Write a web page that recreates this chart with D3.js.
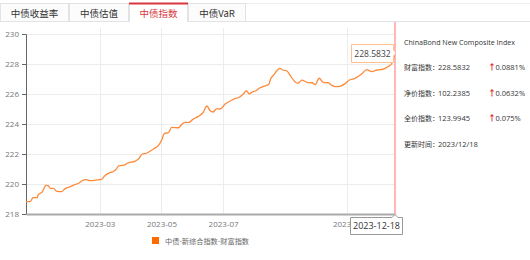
<!DOCTYPE html>
<html>
<head>
<meta charset="utf-8">
<script src="https://cdn.jsdelivr.net/npm/d3@7"></script>
<style>
  body { margin: 0; background: #fff; font-family: "Noto Sans CJK SC", "Noto Sans", sans-serif; }
  svg text { font-family: "Noto Sans CJK SC", "Noto Sans", sans-serif; }
</style>
</head>
<body>
<svg id="chart" width="530" height="260"></svg>
<script>
// tabs along the top
var tabs = ["中债收益率", "中债估值", "中债指数", "中债VaR"];
var activeTab = 2;

// wealth index series
var dates = ["2022-12-18","2022-12-22","2022-12-25","2022-12-29","2022-12-30","2023-01-03","2023-01-06","2023-01-07","2023-01-09","2023-01-11",
  "2023-01-14","2023-01-17","2023-01-22","2023-01-26","2023-01-31","2023-02-03","2023-02-08","2023-02-11","2023-02-16","2023-02-19",
  "2023-02-26","2023-03-03","2023-03-06","2023-03-10","2023-03-14","2023-03-17","2023-03-20","2023-03-26","2023-03-28","2023-04-05",
  "2023-04-08","2023-04-12","2023-04-16","2023-04-23","2023-04-28","2023-05-01","2023-05-04","2023-05-08","2023-05-11","2023-05-18",
  "2023-05-19","2023-05-24","2023-05-28","2023-06-01","2023-06-06","2023-06-11","2023-06-15","2023-06-18","2023-06-21","2023-06-25",
  "2023-06-28","2023-07-03","2023-07-08","2023-07-13","2023-07-16","2023-07-21","2023-07-24","2023-07-27","2023-07-29","2023-08-02",
  "2023-08-06","2023-08-11","2023-08-15","2023-08-17","2023-08-20","2023-08-23","2023-08-26","2023-08-29","2023-09-02","2023-09-05",
  "2023-09-10","2023-09-13","2023-09-17","2023-09-22","2023-09-27","2023-09-30","2023-10-04","2023-10-08","2023-10-13","2023-10-16",
  "2023-10-20","2023-10-25","2023-10-30","2023-11-03","2023-11-08","2023-11-15","2023-11-20","2023-11-25","2023-11-30","2023-12-06",
  "2023-12-11","2023-12-15","2023-12-18"];
var values = [218.82,218.82,219.09,219.09,219.27,219.47,219.87,219.91,219.89,219.71,
  219.71,219.53,219.49,219.71,219.82,219.93,220.05,220.20,220.29,220.22,
  220.27,220.33,220.55,220.73,220.82,220.97,221.22,221.27,221.38,221.53,
  221.65,222.00,222.05,222.33,222.57,222.90,223.38,223.42,223.78,223.75,
  223.82,224.11,224.11,224.31,224.49,224.75,225.20,224.90,224.80,225.03,
  225.00,225.33,225.53,225.71,225.75,226.00,226.22,225.99,226.11,226.20,
  226.40,226.53,226.63,227.00,227.27,227.53,227.71,227.60,227.55,227.27,
  226.82,226.71,226.93,226.78,226.75,226.62,227.05,226.78,226.75,226.60,
  226.49,226.53,226.71,226.93,227.03,227.33,227.63,227.49,227.60,227.65,
  227.82,228.05,228.5832];

var yTicks = [218, 220, 222, 224, 226, 228, 230];
var xTicks = ["2023-03-01", "2023-05-01", "2023-07-01", "2023-11-01"];
var lastDate = "2023-12-18";

var seriesName = "中债-新综合指数-财富指数";
var panelTitle = "ChinaBond New Composite Index";
var panelLabels = ["财富指数：", "净价指数：", "全价指数："];
var panelValues = ["228.5832", "102.2385", "123.9945"];
var panelChanges = ["0.0881%", "0.0632%", "0.075%"];
var updateLabel = "更新时间：2023/12/18";

var parse = d3.timeParse("%Y-%m-%d");
var data = dates.map(function(d, i) { return { date: parse(d), value: values[i] }; });

var svg = d3.select("#chart");
var margin = { left: 26, right: 135, top: 34, bottom: 46 };
var width = 530, height = 260;
var latin = "'Open Sans', sans-serif";

// ---- tab bar ----
var tabX = [0, 69, 129, 188, 246];
svg.append("line").attr("x1", 0).attr("x2", width).attr("y1", 21.5).attr("y2", 21.5)
  .attr("stroke", "#e3e3e3");
svg.append("line").attr("x1", 0).attr("x2", width).attr("y1", 3.5).attr("y2", 3.5)
  .attr("stroke", "#eeeeee");
var tab = svg.selectAll("g.tab").data(tabs).enter().append("g").attr("class", "tab");
tab.append("rect")
  .attr("x", function(d, i) { return tabX[i] + 0.5; })
  .attr("y", 3.5)
  .attr("width", function(d, i) { return tabX[i + 1] - tabX[i] - 1; })
  .attr("height", 18)
  .attr("fill", function(d, i) { return i === activeTab ? "#fff" : "#fcfcfc"; })
  .attr("stroke", "#e3e3e3");
tab.filter(function(d, i) { return i === activeTab; }).append("rect")
  .attr("x", tabX[activeTab] + 1).attr("y", 19).attr("width", tabX[activeTab + 1] - tabX[activeTab] - 2)
  .attr("height", 4).attr("fill", "#fff");
tab.filter(function(d, i) { return i === activeTab; }).append("line")
  .attr("x1", tabX[activeTab]).attr("x2", tabX[activeTab + 1])
  .attr("y1", 3.5).attr("y2", 3.5)
  .attr("stroke", "#d9363e").attr("stroke-width", 2);
tab.append("text")
  .attr("x", function(d, i) { return (tabX[i] + tabX[i + 1]) / 2; })
  .attr("y", 16.5)
  .attr("text-anchor", "middle")
  .attr("font-size", 9.5)
  .attr("fill", function(d, i) { return i === activeTab ? "#d9363e" : "#333"; })
  .text(function(d) { return d; });

// ---- scales ----
var x = d3.scaleTime()
  .domain([parse("2022-12-18"), parse(lastDate)])
  .range([margin.left, width - margin.right]);
var y = d3.scaleLinear()
  .domain([218, 230])
  .range([height - margin.bottom, margin.top]);

// grid
svg.append("g").selectAll("line").data(yTicks.slice(1)).enter().append("line")
  .attr("x1", margin.left).attr("x2", width - margin.right)
  .attr("y1", function(d) { return Math.round(y(d)) + 0.5; })
  .attr("y2", function(d) { return Math.round(y(d)) + 0.5; })
  .attr("stroke", "#ececec");
svg.append("g").selectAll("line").data(xTicks).enter().append("line")
  .attr("x1", function(d) { return Math.round(x(parse(d))) + 0.5; })
  .attr("x2", function(d) { return Math.round(x(parse(d))) + 0.5; })
  .attr("y1", 28).attr("y2", y(218))
  .attr("stroke", "#ececec");

// y axis
var yAxis = svg.append("g")
  .attr("transform", "translate(" + margin.left + ",0)")
  .call(d3.axisLeft(y).tickValues(yTicks).tickSize(4).tickPadding(3));
yAxis.select(".domain").attr("stroke", "#666");
yAxis.selectAll(".tick line").attr("stroke", "#666");
yAxis.selectAll("text").attr("fill", "#777").attr("font-size", 8)
  .style("font-family", latin);

// x axis
var xAxis = svg.append("g")
  .attr("transform", "translate(0," + y(218) + ")")
  .call(d3.axisBottom(x).tickValues(xTicks.map(parse)).tickSize(0).tickPadding(7)
    .tickFormat(d3.timeFormat("%Y-%m")));
xAxis.select(".domain").attr("stroke", "#aaa").attr("stroke-width", 2);
xAxis.selectAll("text").attr("fill", "#777").attr("font-size", 8)
  .style("font-family", latin);

// line
var line = d3.line()
  .x(function(d) { return x(d.date); })
  .y(function(d) { return y(d.value); })
  .curve(d3.curveMonotoneX);
svg.append("path").datum(data)
  .attr("d", line)
  .attr("fill", "none")
  .attr("stroke", "#ff8a3a")
  .attr("stroke-width", 1.3);

// crosshair at last point
var last = data[data.length - 1];
var cx = x(last.date);
svg.append("line")
  .attr("x1", cx).attr("x2", cx)
  .attr("y1", 22).attr("y2", y(218))
  .attr("stroke", "#ff9f9f").attr("stroke-width", 1.5);

// value tooltip
var vt = svg.append("g").attr("transform", "translate(" + (cx - 44) + "," + 44 + ")");
vt.append("path")
  .attr("d", "M0.5,0.5H42.5V6L45,9L42.5,12V18.5H0.5Z")
  .attr("fill", "#fff").attr("stroke", "#ffbf8f");
vt.append("text").attr("x", 21.5).attr("y", 12.5).attr("text-anchor", "middle")
  .attr("font-size", 8.5).attr("fill", "#444")
  .style("font-family", latin)
  .text(d3.format(".4f")(last.value));

// date tooltip
var dt = svg.append("g").attr("transform", "translate(" + (cx - 45) + "," + (y(218)) + ")");
dt.append("path")
  .attr("d", "M0.5,3.5H42L45,0.5L48,3.5H52.5V20.5H0.5Z")
  .attr("fill", "#fff").attr("stroke", "#999");
dt.append("text").attr("x", 26.5).attr("y", 15).attr("text-anchor", "middle")
  .attr("font-size", 9).attr("fill", "#333")
  .style("font-family", latin)
  .text(d3.timeFormat("%Y-%m-%d")(last.date));

// right panel
var px = 404;
svg.append("text").attr("x", px).attr("y", 45).attr("font-size", 7.5).attr("fill", "#333")
  .attr("textLength", 111).attr("lengthAdjust", "spacingAndGlyphs")
  .style("font-family", latin)
  .text(panelTitle);
var rows = svg.selectAll("g.row").data(panelLabels).enter().append("g").attr("class", "row")
  .attr("transform", function(d, i) { return "translate(" + px + "," + (70 + i * 25.5) + ")"; });
rows.append("text").attr("font-size", 7)
  .attr("fill", "#333").text(function(d) { return d; });
rows.append("text").attr("x", 34).attr("font-size", 7.5).attr("fill", "#333")
  .style("font-family", latin)
  .text(function(d, i) { return panelValues[i]; });
rows.append("text").attr("x", 84).attr("font-size", 8).attr("fill", "#e02020")
  .attr("font-weight", "bold").text("↑");
rows.append("text").attr("x", 91.5).attr("font-size", 7.5).attr("fill", "#333")
  .style("font-family", latin)
  .text(function(d, i) { return panelChanges[i]; });
svg.append("text").attr("x", px).attr("y", 147).attr("font-size", 7).attr("fill", "#333")
  .text(updateLabel.slice(0, 5));
svg.append("text").attr("x", px + 34).attr("y", 147).attr("font-size", 7.5).attr("fill", "#333")
  .style("font-family", latin)
  .text(updateLabel.slice(5));

// legend
svg.append("rect").attr("x", 152).attr("y", 237).attr("width", 7).attr("height", 7)
  .attr("fill", "#ff6a00");
svg.append("text").attr("x", 165).attr("y", 244).attr("font-size", 7.2).attr("fill", "#666")
  .text(seriesName);
</script>
</body>
</html>
